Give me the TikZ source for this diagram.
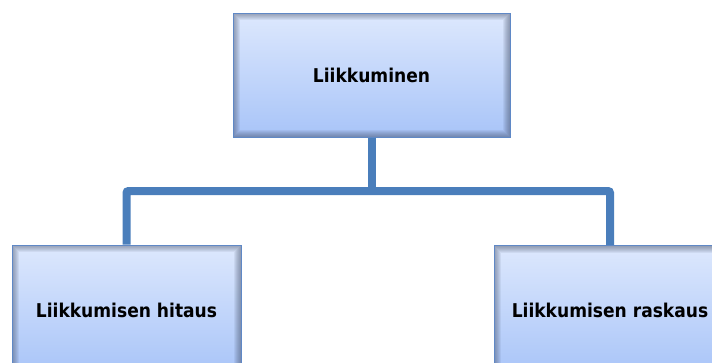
\documentclass[tikz,border=0pt]{standalone}
\usepackage{fontspec}
\newfontfamily\boxfont{DejaVu Sans Condensed}
\usetikzlibrary{positioning}
\definecolor{boxtop}{HTML}{DDE8FD}
\definecolor{boxbottom}{HTML}{A8C4F8}
\definecolor{boxline}{HTML}{5F88C6}
\definecolor{boxshade}{HTML}{3A4660}
\definecolor{linkblue}{HTML}{4A7EBB}

\begin{document}
\begin{tikzpicture}[x=1pt, y=-1pt,
        box/.style={rectangle, draw=boxline, line width=1pt, top color=boxtop, bottom color=boxbottom,
            text=black, font=\boxfont\bfseries\fontsize{19}{23}\selectfont,
            path picture={\foreach \k in {1,...,7}{\draw[boxshade, opacity=0.08, line width=2*\k pt]
                (path picture bounding box.south west) rectangle (path picture bounding box.north east);}}},
        link/.style={draw=linkblue, line width=8pt, rounded corners=2pt}
    ]
    \useasboundingbox (0,0) rectangle (712,362);
    \clip (0,0) rectangle (712,362);

    % boxes
    \node[box, minimum width=277pt, minimum height=124pt] (top) at (371.5,75) {Liikkuminen};
    \node[box, minimum width=229pt, minimum height=130pt] (slow) at (126.5,310) {Liikkumisen hitaus};
    \node[box, minimum width=232pt, minimum height=130pt] (heavy) at (610,310.5) {Liikkumisen raskaus};

    % connectors
    \coordinate (hub) at (top.south |- 0,191);
    \draw[link] (top.south) -- (hub);
    \draw[link] (slow.north) |- (hub) -| (heavy.north);
\end{tikzpicture}
\end{document}
